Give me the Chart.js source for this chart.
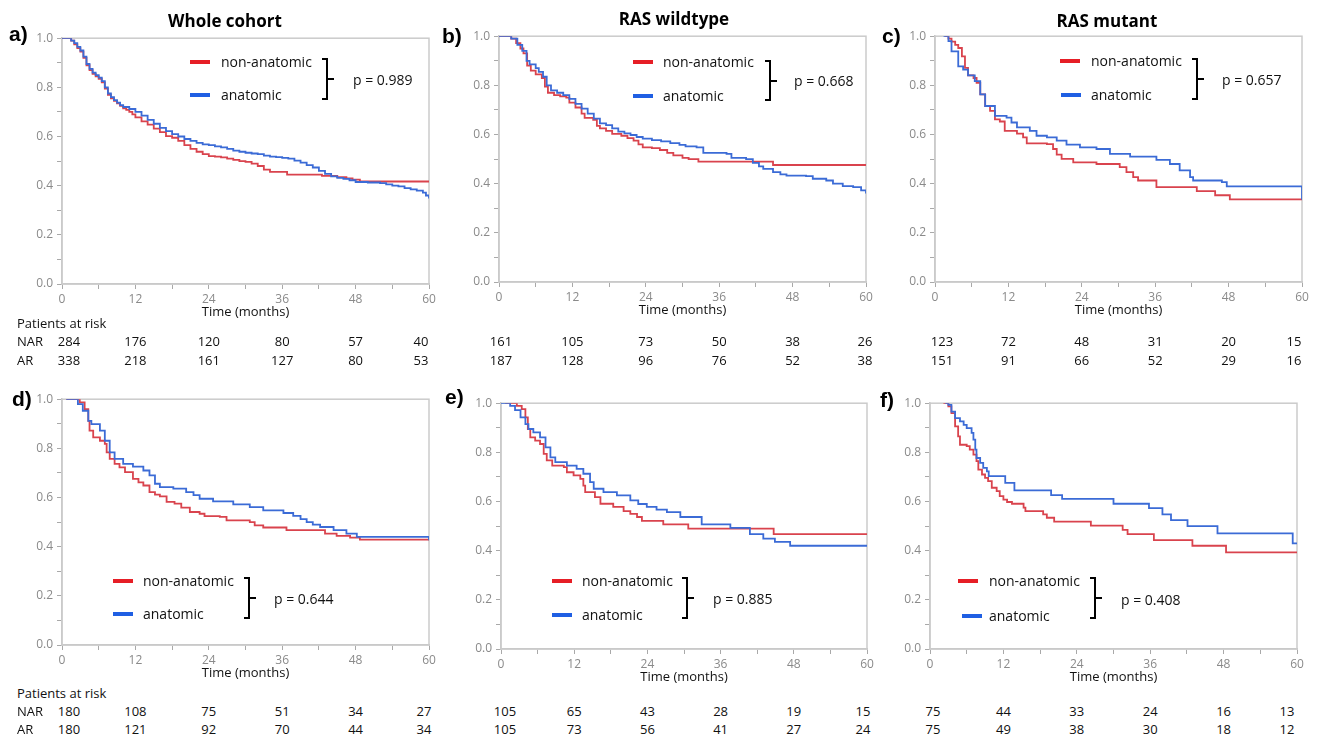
<!DOCTYPE html>
<html><head><meta charset="utf-8">
<script src="https://cdn.jsdelivr.net/npm/chart.js@4.4.1/dist/chart.umd.min.js"></script>
<style>
html,body{margin:0;padding:0;background:#fff;}
body{width:1318px;height:739px;position:relative;overflow:hidden;font-family:"Open Sans",sans-serif;color:#111;}
.abs{position:absolute;white-space:nowrap;}
canvas{position:absolute;}
.plabel{font:bold 21px "Liberation Sans",Arial,sans-serif;line-height:1;transform:translateY(-50%);color:#000;}
.title{font:bold 17px "Open Sans",sans-serif;line-height:1;transform:translate(-50%,-50%);color:#000;}
.leg{font:14px "Open Sans",sans-serif;line-height:1;transform:translateY(-50%);color:#111;}
.bar{height:4px;width:20px;transform:translateY(-50%);}
.risk{font:13px "Open Sans",sans-serif;line-height:1;color:#111;}
.brace{border:2px solid #000;border-left:none;width:6px;box-sizing:border-box;}
.btick{height:2px;width:6px;background:#000;}
</style></head><body>
<script>
// ---------------- DATA ----------------
const timeTicks = [0, 12, 24, 36, 48, 60];
const seriesNames = ['non-anatomic', 'anatomic'];
const panelLetters = ['a)', 'b)', 'c)', 'd)', 'e)', 'f)'];
const panelTitles = ['Whole cohort', 'RAS wildtype', 'RAS mutant', '', '', ''];
const pValues = ['p = 0.989', 'p = 0.668', 'p = 0.657', 'p = 0.644', 'p = 0.885', 'p = 0.408'];
const riskHeader = 'Patients at risk';
const riskRowLabels = ['NAR', 'AR'];

// patients at risk (top row)
const narWhole = [284, 176, 120, 80, 57, 40];
const arWhole = [338, 218, 161, 127, 80, 53];
const narWild = [161, 105, 73, 50, 38, 26];
const arWild = [187, 128, 96, 76, 52, 38];
const narMut = [123, 72, 48, 31, 20, 15];
const arMut = [151, 91, 66, 52, 29, 16];
// patients at risk (bottom row)
const narWhole2 = [180, 108, 75, 51, 34, 27];
const arWhole2 = [180, 121, 92, 70, 44, 34];
const narWild2 = [105, 65, 43, 28, 19, 15];
const arWild2 = [105, 73, 56, 41, 27, 24];
const narMut2 = [75, 44, 33, 24, 16, 13];
const arMut2 = [75, 49, 38, 30, 18, 12];

// Kaplan-Meier curves: [time (months), survival]
const nonAnatomicWhole = [[0,1],[1,1],[1.5,0.99],[2,0.975],[2.5,0.96],[3,0.945],[3.5,0.92],[4,0.89],[4.5,0.87],[5,0.855],[5.5,0.845],[6,0.835],[6.5,0.82],[7,0.795],[7.5,0.77],[8,0.755],[8.5,0.745],[9,0.735],[9.5,0.725],[10,0.715],[10.5,0.708],[11,0.7],[11.5,0.69],[12,0.678],[13,0.662],[14,0.648],[15,0.632],[16,0.618],[17,0.602],[18,0.595],[19,0.582],[20,0.565],[21,0.55],[22,0.538],[23,0.528],[24,0.52],[25,0.518],[26,0.515],[27,0.51],[28,0.505],[29,0.5],[30,0.497],[31,0.49],[32,0.48],[33,0.465],[34,0.456],[36.8,0.445],[42.5,0.44],[45,0.435],[46.5,0.43],[47.5,0.425],[48.7,0.417],[60,0.417]];
const anatomicWhole = [[0,1],[1,1],[1.5,0.99],[2,0.98],[2.5,0.965],[3,0.95],[3.5,0.925],[4,0.895],[4.5,0.875],[5,0.86],[5.5,0.85],[6,0.84],[6.5,0.825],[7,0.8],[7.5,0.775],[8,0.76],[8.5,0.748],[9,0.738],[9.5,0.728],[10,0.72],[11,0.712],[12,0.7],[13,0.685],[14,0.668],[15,0.652],[16,0.635],[17,0.622],[18,0.61],[19,0.6],[20,0.59],[21,0.582],[22,0.574],[23,0.568],[24,0.565],[25,0.56],[26,0.556],[27,0.55],[28,0.543],[29,0.538],[30,0.534],[31,0.531],[32,0.528],[33,0.522],[34,0.518],[35,0.516],[36,0.513],[37,0.51],[38,0.502],[39,0.494],[40,0.484],[41,0.474],[42,0.46],[43,0.448],[44,0.438],[45,0.432],[46,0.428],[47,0.422],[48,0.415],[50,0.413],[52,0.41],[53,0.405],[54,0.4],[55,0.397],[56,0.39],[57,0.385],[58,0.38],[59,0.372],[59.5,0.36],[60,0.348]];

const nonAnatomicWild = [[0,1],[1,1],[2,0.99],[2.8,0.972],[3.5,0.95],[4,0.93],[4.6,0.88],[5.2,0.86],[6,0.845],[7,0.83],[7.5,0.795],[8,0.77],[9,0.76],[10,0.755],[11,0.75],[11.5,0.73],[12.5,0.71],[13.5,0.685],[14,0.668],[15.4,0.66],[16,0.635],[16.5,0.625],[17.5,0.615],[18.5,0.603],[20,0.595],[21,0.585],[22,0.575],[22.8,0.56],[23.5,0.548],[25,0.545],[26.3,0.537],[27.5,0.525],[28.5,0.515],[30,0.505],[31,0.5],[32.6,0.49],[44.8,0.476],[60,0.476]];
const anatomicWild = [[0,1],[1,1],[2,0.99],[3,0.965],[3.8,0.94],[4.5,0.9],[5,0.885],[6,0.87],[6.5,0.855],[7.2,0.835],[7.8,0.8],[8.5,0.78],[9.5,0.77],[10.5,0.76],[11.5,0.745],[12.5,0.725],[13.5,0.705],[14.5,0.685],[15.5,0.665],[16.5,0.645],[17.5,0.638],[18.5,0.625],[19.5,0.612],[20.5,0.605],[21.5,0.598],[22.5,0.59],[23.5,0.583],[25,0.577],[26.5,0.572],[28,0.565],[29.5,0.558],[30.5,0.552],[32.3,0.548],[33.4,0.525],[37.2,0.521],[38,0.505],[40.4,0.5],[41.5,0.485],[42.5,0.47],[43.2,0.46],[44.8,0.447],[46,0.438],[47,0.433],[50.2,0.431],[51.3,0.42],[53.5,0.413],[54.6,0.4],[56.2,0.39],[57.9,0.386],[59.2,0.373],[60,0.36]];

const nonAnatomicMut = [[1.6,1],[2.2,0.99],[2.7,0.978],[3.3,0.965],[3.8,0.952],[4.4,0.918],[4.9,0.871],[5.4,0.841],[6.3,0.83],[6.8,0.81],[7.4,0.763],[8.2,0.716],[9,0.696],[9.8,0.662],[10.6,0.653],[11.4,0.615],[13.4,0.604],[14.4,0.588],[15,0.564],[18.3,0.561],[19.3,0.541],[19.9,0.518],[20.7,0.501],[22.6,0.487],[26.4,0.48],[30.2,0.467],[31.3,0.447],[32.4,0.427],[33.2,0.413],[36.2,0.386],[42.8,0.37],[45.8,0.353],[48.2,0.336],[60,0.336]];
const anatomicMut = [[1.4,1],[2.2,0.98],[2.7,0.938],[3.8,0.877],[4.6,0.864],[5.4,0.841],[6.5,0.817],[7.4,0.763],[8.2,0.716],[9.8,0.676],[11.7,0.669],[12.5,0.649],[13.4,0.629],[15.5,0.615],[16.6,0.595],[18.3,0.588],[19.9,0.575],[21.5,0.559],[23.7,0.548],[26.4,0.541],[28.6,0.521],[31.9,0.51],[36.2,0.497],[38.4,0.48],[40,0.454],[41.7,0.427],[42.2,0.413],[46.9,0.406],[47.7,0.389],[59.1,0.389],[60,0.335]];

const nonAnatomicWhole2 = [[0.7,1],[2,1],[2.9,0.987],[3.7,0.96],[4.3,0.912],[4.5,0.872],[5.1,0.845],[6.2,0.831],[7,0.818],[7.3,0.784],[7.8,0.757],[8.6,0.737],[9.4,0.723],[10.3,0.703],[11.6,0.676],[12.5,0.662],[13.3,0.649],[14.3,0.622],[15.2,0.612],[16,0.605],[17.1,0.582],[18.4,0.575],[19.5,0.559],[20.9,0.541],[22.5,0.534],[23.3,0.524],[25.8,0.521],[26.9,0.507],[30.7,0.5],[31.5,0.487],[32.9,0.478],[36.7,0.467],[43,0.453],[44.9,0.444],[47.1,0.437],[48.7,0.429],[60,0.429]];
const anatomicWhole2 = [[0.7,1],[1.5,1],[2.6,0.98],[3.4,0.953],[4.3,0.912],[4.8,0.899],[6.2,0.872],[7,0.831],[7.8,0.784],[8.6,0.757],[10,0.737],[11.6,0.726],[13.3,0.71],[14.3,0.69],[15.2,0.656],[16,0.642],[18.2,0.636],[20.3,0.622],[21.5,0.61],[22.5,0.595],[24.7,0.584],[28,0.572],[30.7,0.561],[32.9,0.548],[36.2,0.537],[37.8,0.525],[39,0.512],[40,0.5],[41,0.49],[42.2,0.48],[44.4,0.467],[46.5,0.453],[48.2,0.44],[59.6,0.44],[60,0.426]];

const nonAnatomicWild2 = [[0.7,1],[1.5,1],[2.6,0.989],[3.4,0.976],[4,0.942],[4.4,0.895],[4.8,0.861],[5.6,0.848],[6.4,0.834],[7,0.794],[7.5,0.767],[8.4,0.746],[10.3,0.74],[10.8,0.719],[11.9,0.706],[13,0.692],[13.5,0.665],[13.8,0.638],[15.4,0.618],[16.3,0.591],[18.4,0.578],[20.1,0.561],[21.2,0.55],[22.3,0.537],[23.1,0.521],[26.6,0.507],[30.7,0.49],[44.7,0.467],[60,0.467]];
const anatomicWild2 = [[0,1],[0.7,1],[1.5,0.989],[2.3,0.972],[3.2,0.942],[4,0.915],[4.5,0.895],[5.3,0.881],[6.4,0.861],[7.3,0.82],[8.1,0.78],[8.9,0.76],[10.8,0.746],[12.4,0.733],[13.5,0.713],[14.6,0.679],[15.2,0.652],[16.8,0.638],[19,0.625],[21.2,0.605],[22.5,0.59],[23.9,0.578],[25.5,0.567],[27.2,0.557],[29.4,0.537],[32.9,0.507],[37.6,0.493],[40.8,0.467],[43,0.449],[44.9,0.436],[47.4,0.42],[60,0.42]];

const nonAnatomicMut2 = [[2.2,1],[3,0.987],[3.5,0.96],[4.1,0.906],[4.6,0.865],[4.9,0.831],[6,0.825],[6.5,0.811],[7.1,0.791],[7.6,0.764],[7.9,0.73],[8.5,0.71],[9,0.696],[9.5,0.683],[10.1,0.656],[10.9,0.642],[11.4,0.622],[12,0.608],[12.6,0.598],[13.4,0.591],[15.3,0.575],[15.6,0.561],[18.5,0.548],[19.1,0.534],[20.3,0.518],[26.3,0.502],[31.5,0.485],[32.3,0.467],[36.6,0.443],[42.9,0.42],[48.4,0.393],[60,0.393]];
const anatomicMut2 = [[2.5,1],[3,0.993],[3.5,0.966],[4.1,0.939],[4.9,0.926],[5.5,0.912],[6,0.899],[6.8,0.879],[7.1,0.852],[7.4,0.811],[7.6,0.777],[8.2,0.757],[8.7,0.737],[9.3,0.723],[9.6,0.703],[12.3,0.676],[13.8,0.645],[19.8,0.626],[21.6,0.611],[30,0.591],[35.8,0.573],[38,0.548],[39.4,0.524],[42.1,0.5],[47,0.47],[59.3,0.43],[60,0.43]];

// ---------------- LAYOUT / STYLE ----------------
const RED_LINE = '#d9434d', BLUE_LINE = '#3b6bd6';
const RED_KEY = '#e61e26', BLUE_KEY = '#1f5fe3';

const panels = [
  {non: nonAnatomicWhole, ana: anatomicWhole, nar: narWhole, ar: arWhole, header: true,
   geo: {x0: 62, x1: 429, yt: 37, yb: 284}, letter: [9, 33], title: [225, 20], edge: [7, -8],
   leg: {bx1: 190, bx2: 190, tx: 221, y1: 62, y2: 95, brx: 322, bry: 58, brh: 42, px: 353, py: 80},
   risk: {hy: 323, y1: 341, y2: 360}},
  {non: nonAnatomicWild, ana: anatomicWild, nar: narWild, ar: arWild, header: false,
   geo: {x0: 499, x1: 866, yt: 35, yb: 282}, letter: [442, 35], title: [674, 18], edge: [2, -1],
   leg: {bx1: 633, bx2: 633, tx: 663, y1: 62, y2: 96, brx: 765, bry: 60, brh: 41, px: 794, py: 81},
   risk: {y1: 341, y2: 360}},
  {non: nonAnatomicMut, ana: anatomicMut, nar: narMut, ar: arMut, header: false,
   geo: {x0: 935, x1: 1302, yt: 35, yb: 282}, letter: [882, 35], title: [1107, 20], edge: [7, -8],
   leg: {bx1: 1060, bx2: 1061, tx: 1091, y1: 61, y2: 95, brx: 1192, bry: 58, brh: 42, px: 1222, py: 80},
   risk: {y1: 341, y2: 360}},
  {non: nonAnatomicWhole2, ana: anatomicWhole2, nar: narWhole2, ar: arWhole2, header: true,
   geo: {x0: 62, x1: 429, yt: 398, yb: 645}, letter: [12, 398], title: null, edge: [7, -5],
   leg: {bx1: 113, bx2: 113, tx: 143, y1: 581, y2: 614, brx: 244, bry: 577, brh: 42, px: 274, py: 599},
   risk: {hy: 693, y1: 711, y2: 729}},
  {non: nonAnatomicWild2, ana: anatomicWild2, nar: narWild2, ar: arWild2, header: false,
   geo: {x0: 501, x1: 867, yt: 402, yb: 649}, letter: [445, 396], title: null, edge: [4, -4],
   leg: {bx1: 552, bx2: 552, tx: 582, y1: 581, y2: 615, brx: 682, bry: 577, brh: 42, px: 713, py: 599},
   risk: {y1: 711, y2: 729}},
  {non: nonAnatomicMut2, ana: anatomicMut2, nar: narMut2, ar: arMut2, header: false,
   geo: {x0: 930, x1: 1297, yt: 402, yb: 649}, letter: [880, 399], title: null, edge: [3, -10],
   leg: {bx1: 958, bx2: 962, tx: 989, y1: 581, y2: 616, brx: 1090, bry: 577, brh: 42, px: 1121, py: 600},
   risk: {y1: 711, y2: 729}}
];

function addDiv(cls, text, left, top, extra) {
  const d = document.createElement('div');
  d.className = 'abs ' + cls;
  if (text !== null) d.textContent = text;
  d.style.left = left + 'px';
  d.style.top = top + 'px';
  if (extra) Object.assign(d.style, extra);
  document.body.appendChild(d);
  return d;
}

const framePlugin = {
  id: 'frame',
  beforeDatasetsDraw(chart) {
    const {ctx, chartArea: a} = chart;
    ctx.save();
    ctx.strokeStyle = '#cbcbcb';
    ctx.lineWidth = 1.5;
    ctx.strokeRect(a.left, a.top, a.right - a.left, a.bottom - a.top);
    ctx.restore();
  }
};

const L = 45, T = 10, R = 12, B = 36;
const tickFont = {family: '"Open Sans", sans-serif', size: 12};

panels.forEach((p, i) => {
  const g = p.geo;
  const w = (g.x1 - g.x0) + L + R, h = (g.yb - g.yt) + T + B;
  const cv = document.createElement('canvas');
  cv.width = w; cv.height = h;
  const cl = g.x0 - L, ct = g.yt - T;
  cv.style.left = cl + 'px'; cv.style.top = ct + 'px';
  cv.style.width = w + 'px'; cv.style.height = h + 'px';
  document.body.appendChild(cv);

  const toXY = arr => arr.map(([x, y]) => ({x, y}));
  const chart = new Chart(cv.getContext('2d'), {
    type: 'line',
    data: {
      datasets: [
        {label: seriesNames[1], data: toXY(p.ana), borderColor: BLUE_LINE, borderWidth: 1.8, stepped: true, pointRadius: 0, fill: false},
        {label: seriesNames[0], data: toXY(p.non), borderColor: RED_LINE, borderWidth: 1.8, stepped: true, pointRadius: 0, fill: false}
      ]
    },
    options: {
      responsive: false, animation: false, devicePixelRatio: 1,
      layout: {padding: {top: T, right: R, left: 0, bottom: 0}},
      plugins: {legend: {display: false}, tooltip: {enabled: false}},
      scales: {
        x: {
          type: 'linear', min: 0, max: 60,
          afterFit(s) { s.height = B; },
          ticks: {stepSize: 6, autoSkip: false, maxRotation: 0, padding: 3, color: '#8a8a8a', font: tickFont,
                  callback: v => (Math.round(v) % 12 === 0 ? String(Math.round(v)) : '')},
          grid: {display: true, drawOnChartArea: false, drawTicks: true, tickLength: 5, color: '#a9a9a9'},
          border: {display: true, color: '#c4c4c4', width: 1.5},
          title: {display: true, text: 'Time (months)', color: '#111', font: {family: '"Open Sans", sans-serif', size: 13}, padding: {top: 0, bottom: 0}}
        },
        y: {
          min: 0, max: 1,
          afterFit(s) { s.width = L; },
          ticks: {stepSize: 0.1, autoSkip: false, padding: 4, color: '#8a8a8a', font: tickFont,
                  callback: v => { const k = Math.round(v * 10); return k % 2 === 0 ? (k / 10).toFixed(1) : ''; }},
          grid: {display: true, drawOnChartArea: false, drawTicks: true, tickLength: 5, color: '#a9a9a9'},
          border: {display: true, color: '#c4c4c4', width: 1.5}
        }
      }
    },
    plugins: [framePlugin]
  });

  // panel letter + title
  addDiv('plabel', panelLetters[i], p.letter[0], p.letter[1]);
  if (p.title) addDiv('title', panelTitles[i], p.title[0], p.title[1]);

  // legend
  const lg = p.leg;
  addDiv('bar', null, lg.bx1, lg.y1, {background: RED_KEY});
  addDiv('bar', null, lg.bx2, lg.y2, {background: BLUE_KEY});
  addDiv('leg', seriesNames[0], lg.tx, lg.y1);
  addDiv('leg', seriesNames[1], lg.tx, lg.y2);
  addDiv('brace', null, lg.brx, lg.bry, {height: lg.brh + 'px'});
  addDiv('btick', null, lg.brx + 6, lg.bry + lg.brh / 2 - 1);
  addDiv('leg', pValues[i], lg.px, lg.py);

  // patients at risk table
  if (p.header) {
    addDiv('risk', riskHeader, 17, p.risk.hy, {transform: 'translateY(-50%)'});
    addDiv('risk', riskRowLabels[0], 17, p.risk.y1, {transform: 'translateY(-50%)'});
    addDiv('risk', riskRowLabels[1], 17, p.risk.y2, {transform: 'translateY(-50%)'});
  }
  const xs = chart.scales.x;
  timeTicks.forEach((t, k) => {
    let px = cl + xs.getPixelForValue(t);
    if (k === 0) px += p.edge[0];
    if (k === timeTicks.length - 1) px += p.edge[1];
    addDiv('risk', String(p.nar[k]), px, p.risk.y1, {transform: 'translate(-50%,-50%)'});
    addDiv('risk', String(p.ar[k]), px, p.risk.y2, {transform: 'translate(-50%,-50%)'});
  });
});
</script>
</body></html>
